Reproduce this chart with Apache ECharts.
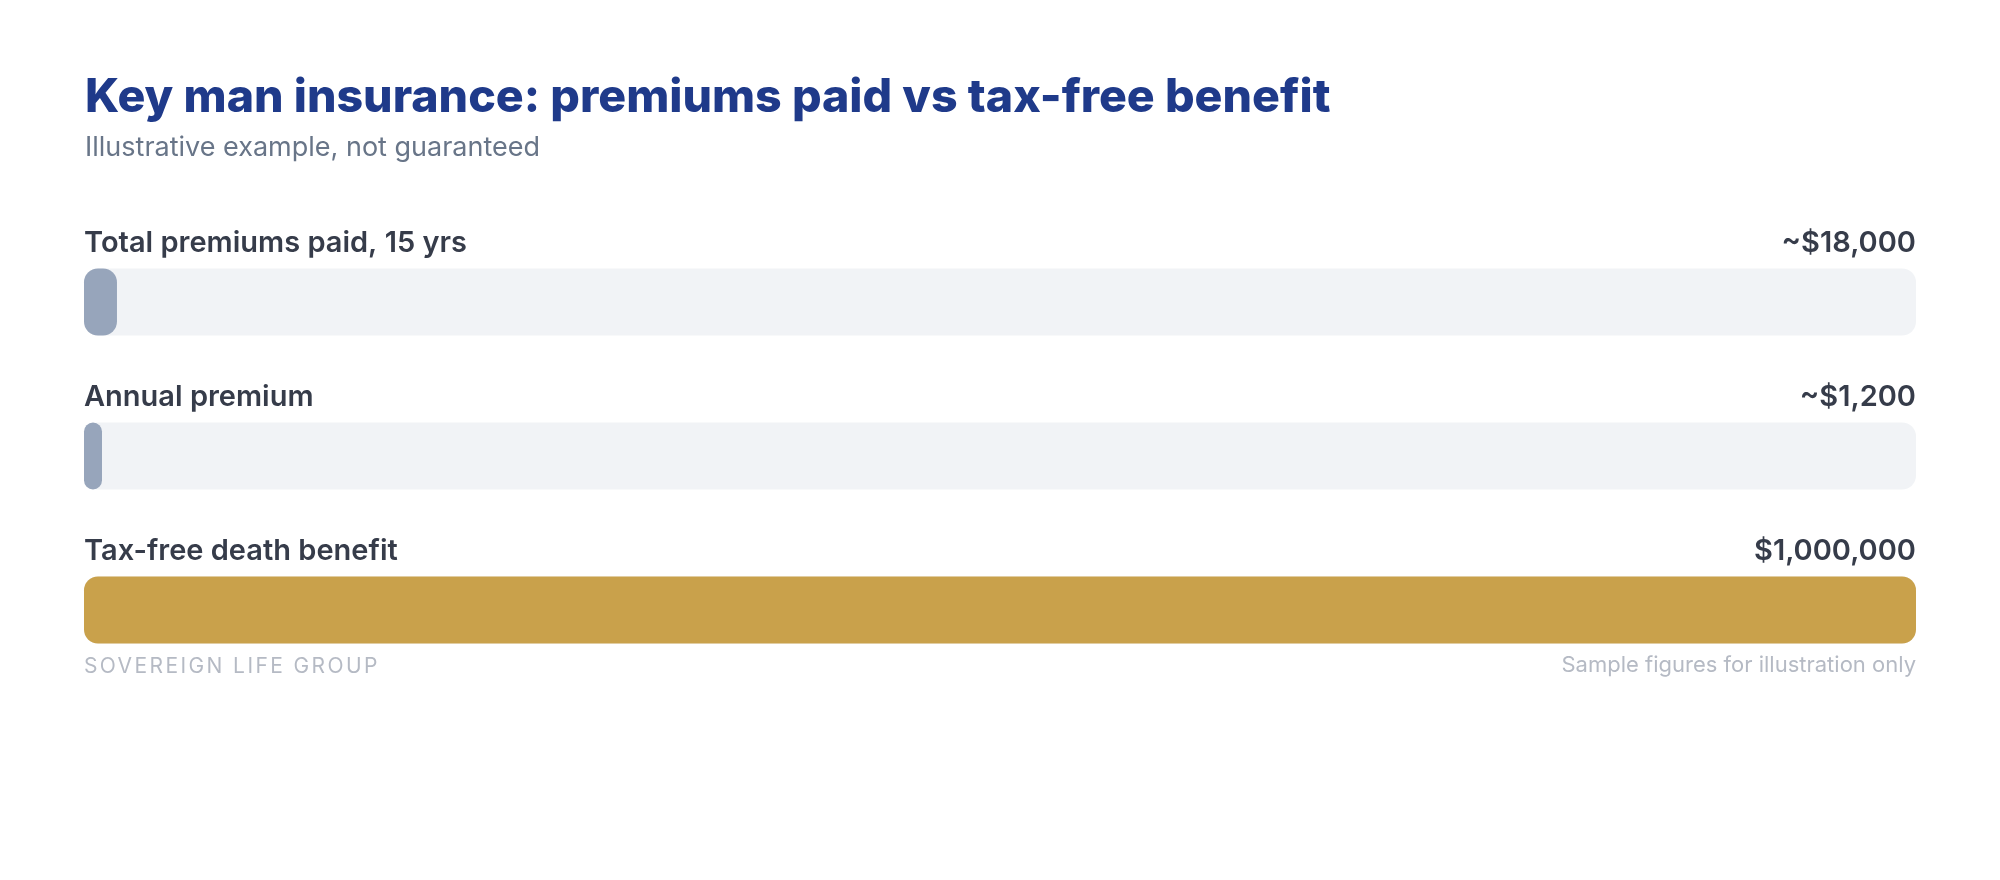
<!DOCTYPE html>
<html><head><meta charset="utf-8">
<script src="https://cdn.jsdelivr.net/npm/echarts@6/dist/echarts.min.js"></script>
<style>html,body{margin:0;padding:0;background:#fff}#wrap{position:relative;width:2000px;height:880px}#c{width:2000px;height:880px}
#brand{position:absolute;left:84px;top:654px;font-family:Inter,"Noto Sans",sans-serif;font-size:21px;letter-spacing:2.4px;color:#b5bac4;line-height:24px;white-space:nowrap}</style>
</head><body><div id="wrap"><div id="c"></div><div id="brand">SOVEREIGN LIFE GROUP</div></div>
<script>
const categories = ['Total premiums paid, 15 yrs', 'Annual premium', 'Tax-free death benefit'];
const values = [18000, 1200, 1000000];
const valueLabels = ['~$18,000', '~$1,200', '$1,000,000'];
const barColors = ['#97a5bb', '#97a5bb', '#c9a14b'];
const axisMax = 1000000;

const FONT = 'Inter, "Noto Sans", sans-serif';
const chart = echarts.init(document.getElementById('c'), null, {renderer: 'canvas'});
const labelStyle = {
  inside: true, margin: 0, verticalAlign: 'bottom', padding: [0, 0, 44, 0],
  fontSize: 29, fontWeight: 600, fontFamily: FONT, color: '#363c4a'
};
chart.setOption({
  animation: false,
  backgroundColor: '#ffffff',
  title: {
    text: 'Key man insurance: premiums paid vs tax-free benefit',
    subtext: 'Illustrative example, not guaranteed',
    left: 80, top: 70, itemGap: 12,
    textStyle: {fontSize: 46.5, fontWeight: 800, fontFamily: FONT, color: '#1f3a8a'},
    subtextStyle: {fontSize: 27, fontWeight: 400, fontFamily: FONT, color: '#687588'}
  },
  grid: {left: 84, right: 84, top: 225, bottom: 193, containLabel: false},
  xAxis: {type: 'value', min: 0, max: axisMax, show: false},
  yAxis: [
    {type: 'category', data: categories, inverse: true, position: 'left',
     axisLine: {show: false}, axisTick: {show: false}, splitLine: {show: false},
     axisLabel: Object.assign({}, labelStyle, {align: 'left'})},
    {type: 'category', data: valueLabels, inverse: true, position: 'right',
     axisLine: {show: false}, axisTick: {show: false}, splitLine: {show: false},
     axisLabel: Object.assign({}, labelStyle, {align: 'right'})}
  ],
  series: [{
    type: 'bar',
    yAxisIndex: 0,
    data: values.map((v, i) => ({value: v, itemStyle: {color: barColors[i]}})),
    barWidth: 67,
    barMinHeight: 18,
    itemStyle: {borderRadius: 14},
    showBackground: true,
    backgroundStyle: {color: '#f1f3f6', borderRadius: 14}
  }],
  graphic: [
    {type: 'text', right: 84, top: 654,
     style: {text: 'Sample figures for illustration only', fontSize: 22, fontFamily: FONT, fill: '#b5bac4', fontWeight: 400}}
  ]
});
</script></body></html>
